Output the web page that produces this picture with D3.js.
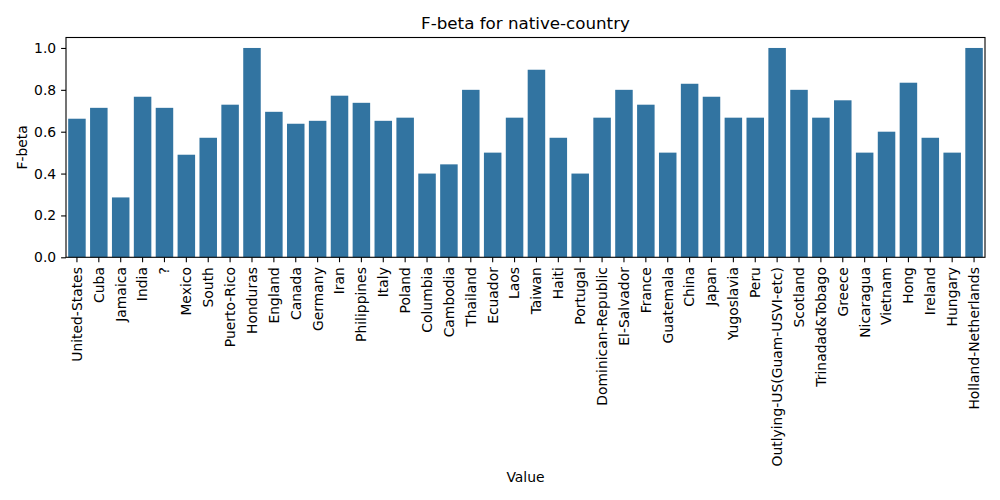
<!DOCTYPE html>
<html>
<head>
<meta charset="utf-8">
<script src="https://cdn.jsdelivr.net/npm/d3@7"></script>
<style>
  body { margin: 0; background: #fff; }
  text { font-family: "DejaVu Sans", sans-serif; fill: #000; }
</style>
</head>
<body>
<svg id="chart" width="1000" height="500"></svg>
<script>
var countries = ['United-States','Cuba','Jamaica','India','?','Mexico','South','Puerto-Rico','Honduras','England',
  'Canada','Germany','Iran','Philippines','Italy','Poland','Columbia','Cambodia','Thailand','Ecuador',
  'Laos','Taiwan','Haiti','Portugal','Dominican-Republic','El-Salvador','France','Guatemala','China','Japan',
  'Yugoslavia','Peru','Outlying-US(Guam-USVI-etc)','Scotland','Trinadad&Tobago','Greece','Nicaragua','Vietnam','Hong','Ireland',
  'Hungary','Holland-Netherlands'];
var fbeta = [0.662,0.714,0.286,0.767,0.714,0.49,0.571,0.729,1.0,0.695,
  0.638,0.652,0.772,0.738,0.652,0.667,0.4,0.444,0.8,0.5,
  0.667,0.896,0.571,0.4,0.667,0.8,0.729,0.5,0.829,0.767,
  0.667,0.667,1.0,0.8,0.667,0.75,0.5,0.6,0.834,0.571,
  0.5,1.0];
var yTicks = [0,0.2,0.4,0.6,0.8,1.0];

// plot box (named so as not to clash with window.top)
var pLeft = 66, pRight = 985, pTop = 37.5, pBottom = 257.3;
var svg = d3.select('#chart');

var x = d3.scaleBand().domain(countries).range([pLeft, pRight]).paddingInner(0.2).paddingOuter(0.1);
var y = d3.scaleLinear().domain([0, 1.05]).range([pBottom, pTop]);

svg.selectAll('rect.bar').data(countries).enter().append('rect')
  .attr('class','bar')
  .attr('x', function(d){ return x(d); })
  .attr('width', x.bandwidth())
  .attr('y', function(d,i){ return y(fbeta[i]); })
  .attr('height', function(d,i){ return pBottom - y(fbeta[i]); })
  .attr('fill', '#3274a1');

// y axis
var ya = svg.append('g').attr('transform','translate(' + pLeft + ',0)')
  .call(d3.axisLeft(y).tickValues(yTicks).tickFormat(d3.format('.1f')).tickSize(4.9).tickPadding(4.9));
ya.select('.domain').remove();
ya.selectAll('line').attr('stroke-width', 1.1);
ya.selectAll('text').style('font-size','13.9px');

// x axis
var xa = svg.append('g').attr('transform','translate(0,' + pBottom + ')')
  .call(d3.axisBottom(x).tickSize(4.9).tickPadding(4.9));
xa.select('.domain').remove();
xa.selectAll('line').attr('stroke-width', 1.1);
xa.selectAll('text')
  .style('font-size','13.9px')
  .attr('y', 0)
  .attr('x', -9.8)
  .attr('dy', '0.35em')
  .attr('transform', 'rotate(-90)')
  .style('text-anchor', 'end');

// frame
svg.append('rect').attr('x', pLeft).attr('y', pTop).attr('width', pRight - pLeft).attr('height', pBottom - pTop)
  .attr('fill','none').attr('stroke','#000').attr('stroke-width',1.1);

svg.append('text').attr('x', (pLeft + pRight) / 2).attr('y', 29)
  .attr('text-anchor','middle').style('font-size','16.7px').text('F-beta for native-country');
svg.append('text').attr('x', (pLeft + pRight) / 2).attr('y', 482)
  .attr('text-anchor','middle').style('font-size','13.9px').text('Value');
svg.append('text').attr('transform','translate(27,' + (pTop + pBottom) / 2 + ') rotate(-90)')
  .attr('text-anchor','middle').style('font-size','13.9px').text('F-beta');
</script>
</body>
</html>
